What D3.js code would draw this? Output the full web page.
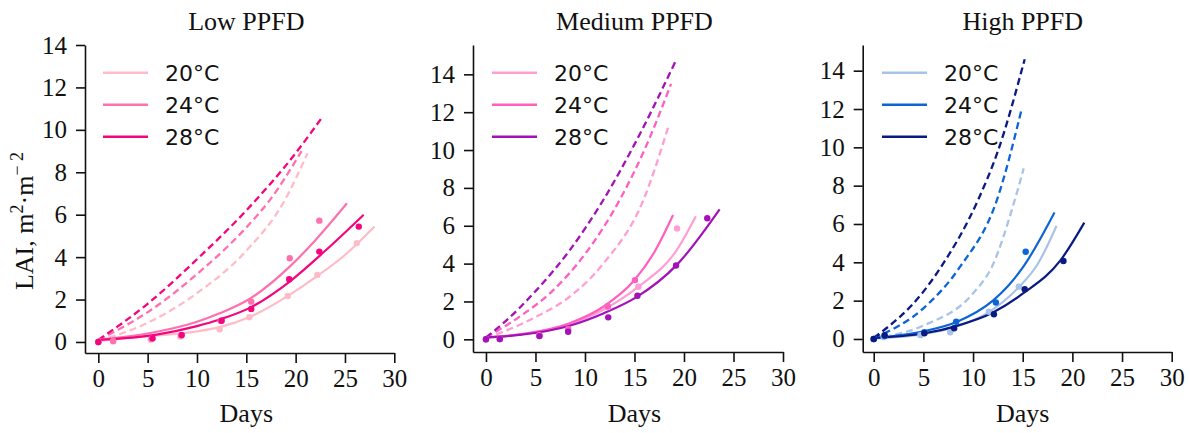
<!DOCTYPE html>
<html>
<head>
<meta charset="utf-8">
<script src="https://cdn.jsdelivr.net/npm/d3@7"></script>
<style>
  body { margin: 0; background: #fff; }
  .tick text { font-family: "Liberation Serif", "Times New Roman", serif; font-size: 25px; fill: #111; }
  .axis path, .axis line { stroke: #111; stroke-width: 1.6px; }
  .title, .xlabel, .ylabel { font-family: "Liberation Serif", serif; font-size: 26px; fill: #111; }
  .legend text { font-family: "DejaVu Sans", sans-serif; font-size: 22px; fill: #111; }
</style>
</head>
<body>
<svg id="chart" width="1190" height="433"></svg>
<script>
const WIDTH = 1190;
const HEIGHT = 433;

const panelTitles = ['Low PPFD', 'Medium PPFD', 'High PPFD'];
const temps = ['20°C', '24°C', '28°C'];
const xTicks = [0, 5, 10, 15, 20, 25, 30];
const yTicks = [0, 2, 4, 6, 8, 10, 12, 14];

const lowColors = ['#ffbcc8', '#ff70ae', '#f2057e'];
const medColors = ['#ff9ed4', '#ff5fbf', '#a312b9'];
const highColors = ['#a9c3e6', '#0c64d6', '#0b1a82'];

// [day, LAI] observed points
const lowObs20 = [[0, 0], [1.5, 0.02], [5.3, 0.1], [8.3, 0.25], [12.3, 0.6], [15.3, 1.17], [19.2, 2.17], [22.2, 3.16], [26.2, 4.66]];
const lowObs24 = [[0, 0], [1.5, 0.05], [5.4, 0.15], [8.4, 0.3], [12.4, 1.0], [15.5, 1.9], [19.4, 3.95], [22.4, 5.72]];
const lowObs28 = [[0, 0], [5.5, 0.17], [8.45, 0.33], [12.5, 1.0], [15.5, 1.56], [19.35, 2.96], [22.4, 4.26], [26.4, 5.44]];
const medObs20 = [[0, 0], [1.4, 0.02], [5.4, 0.2], [8.3, 0.5], [12.3, 1.7], [15.4, 2.78], [19.3, 5.86]];
const medObs24 = [[0, 0], [1.4, 0.02], [5.4, 0.2], [8.3, 0.55], [12.3, 1.75], [15.05, 3.13]];
const medObs28 = [[0, 0], [1.4, 0.02], [5.4, 0.17], [8.3, 0.4], [12.35, 1.16], [15.3, 2.3], [19.2, 3.9], [22.35, 6.4]];
const highObs20 = [[0, 0], [1, 0.1], [4.7, 0.2], [7.7, 0.35], [11.6, 1.42], [14.6, 2.73]];
const highObs24 = [[0, 0], [1.1, 0.15], [5.1, 0.35], [8.3, 0.9], [12.3, 1.9], [15.3, 4.55]];
const highObs28 = [[0, 0], [1.1, 0.2], [5.1, 0.3], [8.1, 0.56], [12.1, 1.29], [15.2, 2.6], [19.1, 4.07]];

// solid fitted curves
const lowFit20 = [[0, 0.05], [5, 0.27], [10, 0.5], [12.3, 0.7], [15.4, 1.19], [19.1, 2.14], [22.1, 3.08], [25, 4.1], [28, 5.44]];
const lowFit24 = [[0, 0.12], [5, 0.4], [10, 0.95], [12.3, 1.35], [15.4, 2.05], [19.4, 3.55], [22, 4.8], [25.2, 6.54]];
const lowFit28 = [[0, 0.1], [5.9, 0.35], [10, 0.75], [12.3, 1.06], [15.4, 1.62], [19.4, 2.85], [23, 4.3], [26.9, 6.0]];
const medFit20 = [[0, 0.1], [4, 0.3], [8.45, 0.8], [12, 1.6], [15.4, 2.78], [19.25, 4.7], [21.2, 6.5]];
const medFit24 = [[0, 0.1], [4, 0.3], [8.45, 0.85], [11.85, 1.72], [15, 3.13], [17, 4.6], [18.9, 6.57]];
const medFit28 = [[0, 0.1], [3.4, 0.23], [8.45, 0.72], [11.85, 1.37], [15.2, 2.23], [19.25, 3.92], [23.6, 6.87]];
const highFit20 = [[0, 0.02], [5, 0.25], [8, 0.6], [11.6, 1.4], [14.6, 2.7], [16.5, 3.9], [18.4, 5.9]];
const highFit24 = [[0, 0.05], [5, 0.4], [8.4, 0.9], [12, 2.0], [13.5, 2.75], [15.1, 3.8], [18.2, 6.6]];
const highFit28 = [[0, 0.05], [5.1, 0.3], [8.2, 0.66], [12, 1.38], [15.1, 2.4], [18.8, 4.1], [21.2, 6.07]];

// dashed model curves
const lowModel20 = [[0, 0.05], [5, 0.9], [10, 2.3], [15, 4.3], [18.8, 6.6], [21.2, 8.9]];
const lowModel24 = [[0, 0.1], [5, 1.4], [10, 3.2], [15, 5.4], [17.4, 6.7], [20.6, 9.0]];
const lowModel28 = [[0, 0.1], [5, 1.8], [10, 3.9], [15, 6.2], [20, 8.9], [22.7, 10.6]];
const medModel20 = [[0, 0.05], [5.1, 1.2], [8.45, 2.25], [11.85, 4.0], [15.9, 7.36], [18.4, 11.2]];
const medModel24 = [[0, 0.1], [3.4, 1.2], [6.8, 2.6], [10, 4.5], [13.5, 7.36], [16, 10.0], [18.7, 13.5]];
const medModel28 = [[0, 0.1], [1.75, 0.85], [5.1, 2.6], [8.45, 4.7], [11.85, 7.36], [15, 10.3], [19.2, 14.75]];
const highModel20 = [[0, 0.02], [5, 0.7], [10, 2.38], [11.9, 3.77], [14.2, 7.25], [15.1, 8.9]];
const highModel24 = [[0, 0.05], [5, 1.6], [8.7, 3.77], [12.4, 7.25], [14.9, 12.0]];
const highModel28 = [[0, 0.05], [5, 2.47], [6.7, 3.7], [10.5, 7.25], [12.5, 9.8], [15.2, 14.6]];

// pixel layout of each panel (spines offset from the data like matplotlib)
const panels = [
    {title: panelTitles[0], colors: lowColors, obs: [lowObs20, lowObs24, lowObs28], fit: [lowFit20, lowFit24, lowFit28], model: [lowModel20, lowModel24, lowModel28],
     xDomain: [-1.35, 30], xRange: [85, 394.3], yDomain: [-0.52, 14], yRange: [353, 45], legendX: 103},
    {title: panelTitles[1], colors: medColors, obs: [medObs20, medObs24, medObs28], fit: [medFit20, medFit24, medFit28], model: [medModel20, medModel24, medModel28],
     xDomain: [-1.31, 30], xRange: [473, 783], yDomain: [-0.67, 15.55], yRange: [352, 45], legendX: 492},
    {title: panelTitles[2], colors: highColors, obs: [highObs20, highObs24, highObs28], fit: [highFit20, highFit24, highFit28], model: [highModel20, highModel24, highModel28],
     xDomain: [-1.11, 30], xRange: [862.7, 1171.7], yDomain: [-0.68, 15.34], yRange: [352, 45], legendX: 882}
];

var svg = d3.select('#chart');

function drawPanel(p, idx) {
    var x = d3.scaleLinear().domain(p.xDomain).range(p.xRange);
    var y = d3.scaleLinear().domain(p.yDomain).range(p.yRange);
    var g = svg.append('g');

    var xAxis = d3.axisBottom(x).tickValues(xTicks).tickSize(10).tickPadding(6).tickSizeOuter(0);
    var yAxis = d3.axisLeft(y).tickValues(yTicks).tickSize(9).tickPadding(9).tickSizeOuter(0);

    g.append('g').attr('class', 'axis')
        .attr('transform', 'translate(0,' + p.yRange[0] + ')')
        .call(xAxis);
    g.append('g').attr('class', 'axis')
        .attr('transform', 'translate(' + p.xRange[0] + ',0)')
        .call(yAxis);

    var line = d3.line()
        .x(function (d) { return x(d[0]); })
        .y(function (d) { return y(d[1]); })
        .curve(d3.curveMonotoneX);

    p.model.forEach(function (s, i) {
        g.append('path').attr('d', line(s))
            .attr('fill', 'none').attr('stroke', p.colors[i])
            .attr('stroke-width', 2.3).attr('stroke-dasharray', '7,4');
    });
    p.fit.forEach(function (s, i) {
        g.append('path').attr('d', line(s))
            .attr('fill', 'none').attr('stroke', p.colors[i])
            .attr('stroke-width', 2.2);
    });
    p.obs.forEach(function (s, i) {
        g.append('g').selectAll('circle').data(s).enter().append('circle')
            .attr('cx', function (d) { return x(d[0]); })
            .attr('cy', function (d) { return y(d[1]); })
            .attr('r', 3.2)
            .attr('fill', p.colors[i]);
    });

    var cx = (x(0) + x(30)) / 2;
    g.append('text').attr('class', 'title')
        .attr('x', cx).attr('y', 30)
        .attr('text-anchor', 'middle').text(p.title);
    g.append('text').attr('class', 'xlabel')
        .attr('x', cx).attr('y', 422)
        .attr('text-anchor', 'middle').text('Days');

    var leg = g.append('g').attr('class', 'legend');
    temps.forEach(function (t, i) {
        var ly = 72.7 + i * 32;
        leg.append('line')
            .attr('x1', p.legendX).attr('x2', p.legendX + 45)
            .attr('y1', ly).attr('y2', ly)
            .attr('stroke', p.colors[i]).attr('stroke-width', 2.6);
        leg.append('text')
            .attr('x', p.legendX + 62).attr('y', ly + 8.5)
            .text(t);
    });
}

panels.forEach(drawPanel);

var ylab = svg.append('text').attr('class', 'ylabel')
    .attr('transform', 'translate(33,221) rotate(-90)')
    .attr('text-anchor', 'middle');
ylab.append('tspan').text('LAI, m');
ylab.append('tspan').attr('dy', -10).attr('font-size', 18).text('2');
ylab.append('tspan').attr('dy', 10).text('·m');
ylab.append('tspan').attr('dy', -10).attr('font-size', 18).text('− 2');
</script>
</body>
</html>
